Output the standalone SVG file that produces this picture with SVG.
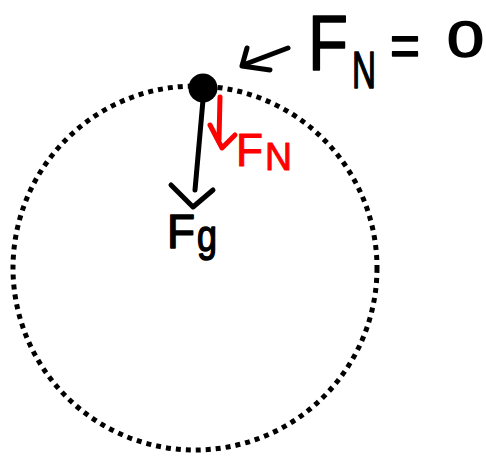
<svg xmlns="http://www.w3.org/2000/svg" width="486" height="456" viewBox="0 0 486 456">
<style>
.ink{fill:none;stroke:#000;stroke-width:5;stroke-linecap:round;stroke-linejoin:round}
.red{fill:none;stroke:#ff0000;stroke-width:5;stroke-linecap:round;stroke-linejoin:round}
.t{font-family:"Liberation Sans",Arial,sans-serif;fill:#000;stroke:#000;stroke-width:1.5;stroke-linejoin:round}
.tr{font-family:"Liberation Sans",Arial,sans-serif;fill:#ff0000;stroke:#ff0000;stroke-width:1;stroke-linejoin:round}
</style>
<rect width="486" height="456" fill="#fff"/>
<g id="orbit">
<circle cx="195" cy="268" r="182" fill="none" stroke="#000" stroke-width="5" stroke-dasharray="5 5"/>
</g>
<g id="connectors">
<path class="ink" d="M203 100 L195 190"/>
<path class="ink" d="M171 185 L193 207 L213 190"/>
<path class="red" d="M220 97 L219 140"/>
<path class="red" d="M210 125 L222 148 L235 135"/>
<path class="ink" d="M288 48 L243 65"/>
<path class="ink" d="M247 48 L242 66 L270 70"/>
</g>
<g id="ball">
<circle cx="203" cy="88" r="14.5" fill="#000"/>
</g>
<g id="label-fg">
<text class="t" x="167" y="248" font-size="48" textLength="28" lengthAdjust="spacingAndGlyphs">F</text>
<text class="t" x="197" y="251" font-size="44" textLength="20" lengthAdjust="spacingAndGlyphs">g</text>
</g>
<g id="label-fn-red">
<text class="tr" x="236" y="166" font-size="46" textLength="27" lengthAdjust="spacingAndGlyphs">F</text>
<text class="tr" x="265" y="170" font-size="38" textLength="27" lengthAdjust="spacingAndGlyphs">N</text>
</g>
<g id="label-fn-zero">
<text class="t" x="308" y="70" font-size="78" stroke-width="2.5" textLength="40" lengthAdjust="spacingAndGlyphs">F</text>
<text class="t" x="352" y="88" font-size="52" stroke-width="2" textLength="24" lengthAdjust="spacingAndGlyphs">N</text>
<text class="t" x="390" y="66" font-size="60" textLength="30" lengthAdjust="spacingAndGlyphs">=</text>
<text class="t" x="447" y="57" font-size="50" stroke-width="2.5" textLength="37" lengthAdjust="spacingAndGlyphs">0</text>
</g>
</svg>
